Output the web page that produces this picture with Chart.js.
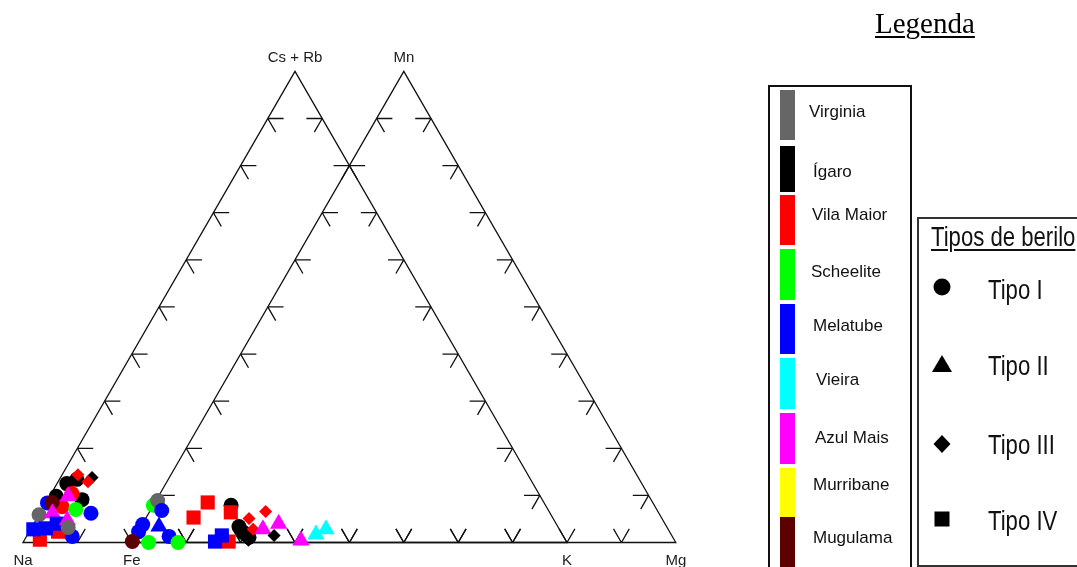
<!DOCTYPE html>
<html>
<head>
<meta charset="utf-8">
<title>Berilo – diagramas ternários</title>
<script src="https://cdn.jsdelivr.net/npm/chart.js@4.4.1/dist/chart.umd.min.js"></script>
<style>
  html, body { margin: 0; padding: 0; background: #fff; }
  #wrap { position: relative; width: 1077px; height: 567px; overflow: hidden; font-family: "Liberation Sans", Arial, sans-serif; }
  #plot { position: absolute; left: 0; top: 0; width: 1077px; height: 567px; }
  .title { position: absolute; left: 875px; top: 9px; font: 29px/29px "Liberation Serif", "Times New Roman", serif; color: #000;
           text-decoration: underline; text-decoration-thickness: 2px; text-underline-offset: 3px; white-space: nowrap; }
  .box { position: absolute; box-sizing: border-box; }
  #locBox { left: 768px; top: 85px; width: 144px; height: 520px; border: 2px solid #111; }
  #typeBox { left: 917px; top: 217px; width: 200px; height: 350px; border: 2px solid #333; }
  .swatch { position: absolute; left: 780px; width: 15px; }
  .locLabel { position: absolute; font-size: 17px; line-height: 17px; color: #111; white-space: nowrap; }
  .narrow { position: absolute; font-size: 27px; line-height: 27px; color: #111; white-space: nowrap;
            transform: scaleX(0.82); transform-origin: 0 0; }
  #typeTitle { text-decoration: underline; text-decoration-thickness: 2px; text-underline-offset: 3px; }
</style>
</head>
<body>
<div id="wrap">
  <div id="plot"><canvas id="chart"></canvas></div>
  <div class="title">Legenda</div>
  <div class="box" id="locBox"></div>
  <div class="box" id="typeBox"></div>
  <div id="legendItems"></div>
</div>
<script>
// ---- categories ----
const LOCALITIES = ['Virginia', 'Ígaro', 'Vila Maior', 'Scheelite', 'Melatube', 'Vieira', 'Azul Mais', 'Murribane', 'Mugulama'];
const LOCALITY_COLORS = ['#666666', '#000000', '#ff0000', '#00ff00', '#0000ff', '#00ffff', '#ff00ff', '#ffff00', '#5c0000'];
const BERYL_TYPES = ['Tipo I', 'Tipo II', 'Tipo III', 'Tipo IV'];
const TYPE_STYLES = ['circle', 'triangle', 'rectRot', 'rect'];
const TYPE_RADIUS = [7.5, 10, 6.5, 10];

// ---- Na – K – (Cs+Rb) diagram (atomic %, Na = 100 - K - CsRb) ----
const alkLocality = [5, 1, 1, 1, 2, 2, 1, 1, 2, 4, 2, 3, 8, 4, 0, 6, 6, 2, 2, 4, 4, 4, 4, 6, 0];
const alkType     = [1, 2, 0, 0, 2, 2, 0, 0, 0, 0, 0, 0, 0, 0, 0, 1, 1, 3, 3, 3, 3, 3, 0, 1, 0];
const alkK        = [2.5, 5.8, 1.8, 3.2, 2.9, 5.5, 1.2, 6.3, 3.8, 0.3, 3.4, 6.2, 1.1, 9.4, 0.0, 3.4, 2.3, 2.8, 5.3, 0.5, 2.7, 4.2, 8.4, 5.8, 6.7];
const alkCsRb     = [7.9, 13.8, 12.5, 13.4, 14.4, 12.9, 9.8, 9.1, 10.4, 8.4, 7.6, 7.0, 8.5, 6.2, 5.9, 9.8, 6.2, 0.6, 2.3, 2.8, 3.0, 4.0, 1.3, 4.7, 3.2];

// ---- Fe – Mg – Mn diagram (atomic %, Fe = 100 - Mg - Mn) ----
const femLocality = [3, 0, 4, 4, 4, 4, 4, 8, 3, 3, 2, 2, 1, 2, 2, 4, 4, 1, 1, 1, 1, 2, 2, 2, 6, 6, 1, 6, 5, 5];
const femType     = [0, 0, 0, 0, 0, 1, 0, 0, 0, 0, 3, 3, 0, 3, 3, 3, 3, 0, 0, 0, 2, 2, 2, 2, 1, 1, 2, 1, 1, 1];
const femMg       = [0.0, 0.3, 2.1, 0.1, 0.1, 3.3, 6.2, 0.0, 3.1, 8.5, 9.7, 8.7, 14.3, 15.0, 17.7, 15.2, 15.8, 18.0, 19.5, 21.0, 21.2, 20.9, 19.0, 21.3, 22.7, 25.0, 25.4, 30.9, 33.0, 34.3];
const femMn       = [7.9, 8.9, 6.8, 2.3, 3.8, 3.4, 1.3, 0.2, 0.0, 0.0, 8.5, 5.3, 7.9, 6.4, 0.2, 0.2, 1.5, 3.4, 2.1, 1.1, 0.5, 2.8, 5.1, 6.6, 2.8, 4.0, 1.5, 0.4, 1.7, 2.8];

// ---- axis decorations ----
const TICK_FRACTIONS = [0.1, 0.2, 0.3, 0.4, 0.5, 0.6, 0.7, 0.8, 0.9];
const ALK_VERTICES = ['Na', 'K', 'Cs + Rb'];   // left, right, apex
const FEM_VERTICES = ['Fe', 'Mg', 'Mn'];

// Both triangles share one cartesian frame: side = 100 units, the Fe–Mg–Mn
// triangle is shifted 20 units to the right of the Na–K–(Cs+Rb) one.
const H = Math.sqrt(3) / 2;
const FEM_SHIFT = 20;
const PX_PER_UNIT = 5.44;
const ORIGIN_PX = { x: 23, y: 542.5 };
const W = 1077, HT = 567;
const X_MIN = -ORIGIN_PX.x / PX_PER_UNIT, X_MAX = X_MIN + W / PX_PER_UNIT;
const Y_MAX = ORIGIN_PX.y / PX_PER_UNIT, Y_MIN = Y_MAX - HT / PX_PER_UNIT;

function ternaryToXY(shift, right, apex) {
  return right.map((b, i) => ({ x: shift + b + apex[i] / 2, y: apex[i] * H }));
}

const diagrams = [
  { shift: 0, labels: ALK_VERTICES },
  { shift: FEM_SHIFT, labels: FEM_VERTICES }
];

const ternaryFrame = {
  id: 'ternaryFrame',
  beforeDatasetsDraw(chart) {
    const { ctx, scales: { x, y } } = chart;
    const P = (ux, uy) => [x.getPixelForValue(ux), y.getPixelForValue(uy)];
    const ARM = 2.9;
    ctx.save();
    ctx.strokeStyle = '#111';
    ctx.lineWidth = 1.3;
    diagrams.forEach(d => {
      const A = [d.shift, 0], B = [d.shift + 100, 0], C = [d.shift + 50, 100 * H];
      ctx.beginPath();
      ctx.moveTo(...P(...A)); ctx.lineTo(...P(...B)); ctx.lineTo(...P(...C)); ctx.closePath();
      ctx.stroke();

      const seg = (o, dir) => {
        ctx.moveTo(...P(o[0], o[1]));
        ctx.lineTo(...P(o[0] + dir[0] * ARM, o[1] + dir[1] * ARM));
      };
      ctx.beginPath();
      TICK_FRACTIONS.forEach(t => {
        const base = [A[0] + t * 100, 0];
        seg(base, [-0.5, H]); seg(base, [0.5, H]);
        const left = [A[0] + t * 50, t * C[1]];
        seg(left, [1, 0]); seg(left, [0.5, -H]);
        const right = [B[0] - t * 50, t * C[1]];
        seg(right, [-1, 0]); seg(right, [-0.5, -H]);
      });
      ctx.stroke();

      ctx.fillStyle = '#1c1c1c';
      ctx.font = '15px "Liberation Sans", Arial, sans-serif';
      ctx.textAlign = 'center';
      ctx.textBaseline = 'alphabetic';
      const pa = P(...A), pb = P(...B), pc = P(...C);
      ctx.fillText(d.labels[0], pa[0], pa[1] + 22);
      ctx.fillText(d.labels[1], pb[0], pb[1] + 22);
      ctx.fillText(d.labels[2], pc[0], pc[1] - 9);
    });
    ctx.restore();
  }
};

function pointDataset(label, points, loc, type) {
  return {
    label,
    data: points,
    showLine: false,
    pointStyle: c => TYPE_STYLES[type[c.dataIndex]],
    pointRadius: c => TYPE_RADIUS[type[c.dataIndex]],
    backgroundColor: c => LOCALITY_COLORS[loc[c.dataIndex]],
    borderColor: c => LOCALITY_COLORS[loc[c.dataIndex]],
    borderWidth: 0
  };
}

new Chart(document.getElementById('chart'), {
  type: 'scatter',
  data: {
    datasets: [
      pointDataset('Fe–Mg–Mn', ternaryToXY(FEM_SHIFT, femMg, femMn), femLocality, femType),
      pointDataset('Na–K–(Cs+Rb)', ternaryToXY(0, alkK, alkCsRb), alkLocality, alkType)
    ]
  },
  options: {
    responsive: true,
    maintainAspectRatio: false,
    animation: false,
    events: [],
    layout: { padding: 0, autoPadding: false },
    plugins: { legend: { display: false }, tooltip: { enabled: false } },
    scales: {
      x: { type: 'linear', min: X_MIN, max: X_MAX, display: false },
      y: { type: 'linear', min: Y_MIN, max: Y_MAX, display: false }
    }
  },
  plugins: [ternaryFrame]
});

// ---- legend: localities ----
const items = document.getElementById('legendItems');
const swatchTops = [90, 146, 195, 249, 304, 358, 413, 468, 517];
const swatchHeights = [50, 46, 50, 51, 50, 51, 51, 50, 60];
const labelLefts = [809, 813, 812, 811, 813, 816, 815, 813, 813];
const labelBaselines = [117, 177, 220, 277, 331, 385, 443, 490, 543];
LOCALITIES.forEach((name, i) => {
  const sw = document.createElement('div');
  sw.className = 'swatch';
  sw.style.top = swatchTops[i] + 'px';
  sw.style.height = swatchHeights[i] + 'px';
  sw.style.background = LOCALITY_COLORS[i];
  items.appendChild(sw);
  const lb = document.createElement('div');
  lb.className = 'locLabel';
  lb.style.left = labelLefts[i] + 'px';
  lb.style.top = (labelBaselines[i] - 14.4) + 'px';
  lb.textContent = name;
  items.appendChild(lb);
});

// ---- legend: beryl types ----
const tt = document.createElement('div');
tt.className = 'narrow';
tt.id = 'typeTitle';
tt.style.left = '931px';
tt.style.top = (247 - 22.9) + 'px';
tt.textContent = 'Tipos de berilo';
items.appendChild(tt);

const symbolY = [287, 364, 444, 519];
const textBaselines = [300, 376, 455, 531];
const svgNS = 'http://www.w3.org/2000/svg';
const svg = document.createElementNS(svgNS, 'svg');
svg.setAttribute('width', '1077'); svg.setAttribute('height', '567');
svg.style.position = 'absolute'; svg.style.left = '0'; svg.style.top = '0';
const cx = 942;
BERYL_TYPES.forEach((name, i) => {
  const yy = symbolY[i];
  let el;
  if (TYPE_STYLES[i] === 'circle') {
    el = document.createElementNS(svgNS, 'circle');
    el.setAttribute('cx', cx); el.setAttribute('cy', yy); el.setAttribute('r', 8.5);
  } else if (TYPE_STYLES[i] === 'triangle') {
    el = document.createElementNS(svgNS, 'polygon');
    el.setAttribute('points', `${cx},${yy - 9} ${cx + 10},${yy + 8} ${cx - 10},${yy + 8}`);
  } else if (TYPE_STYLES[i] === 'rectRot') {
    el = document.createElementNS(svgNS, 'polygon');
    el.setAttribute('points', `${cx},${yy - 9} ${cx + 8.5},${yy} ${cx},${yy + 9} ${cx - 8.5},${yy}`);
  } else {
    el = document.createElementNS(svgNS, 'rect');
    el.setAttribute('x', cx - 7.5); el.setAttribute('y', yy - 7.5);
    el.setAttribute('width', 15); el.setAttribute('height', 15);
  }
  el.setAttribute('fill', '#000');
  svg.appendChild(el);
  const lb = document.createElement('div');
  lb.className = 'narrow';
  lb.style.left = '988px';
  lb.style.top = (textBaselines[i] - 22.9) + 'px';
  lb.textContent = name;
  items.appendChild(lb);
});
items.appendChild(svg);
</script>
</body>
</html>
